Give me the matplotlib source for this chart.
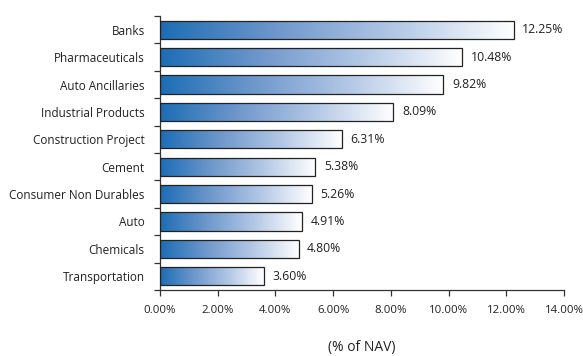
import numpy as np
import matplotlib
matplotlib.use("Agg")
import matplotlib.pyplot as plt
from matplotlib.colors import LinearSegmentedColormap

sectors = ["Banks", "Pharmaceuticals", "Auto Ancillaries", "Industrial Products",
           "Construction Project", "Cement", "Consumer Non Durables", "Auto",
           "Chemicals", "Transportation"]
weights = [12.25, 10.48, 9.82, 8.09, 6.31, 5.38, 5.26, 4.91, 4.80, 3.60]
xticks = [0, 2, 4, 6, 8, 10, 12, 14]

plt.rcParams["font.family"] = ["Open Sans", "DejaVu Sans"]

blues = LinearSegmentedColormap.from_list(
    "nav", ["#1c6db5", "#6f98cc", "#b3c8e6", "#ffffff"])
grad = np.linspace(0, 1, 256).reshape(1, -1)

fig = plt.figure(figsize=(5.83, 3.56), dpi=100)
ax = fig.add_axes([160 / 583, 1 - 290 / 356, (564 - 160) / 583, (290 - 16) / 356])

n = len(sectors)
ypos = np.arange(n)[::-1]
h = 0.66
bars = ax.barh(ypos, weights, height=h, facecolor="none",
               edgecolor="#222222", linewidth=0.9, zorder=3)
for b, v, y in zip(bars, weights, ypos):
    # horizontal blue-to-white fill, clipped to each bar
    im = ax.imshow(grad, cmap=blues, aspect="auto",
                   extent=[0, v, y - h / 2, y + h / 2], zorder=2)
    im.set_clip_path(b)
    ax.text(v + 0.3, y, f"{v:.2f}%", va="center", ha="left",
            fontsize=8.8, color="#222222")

ax.set_xlim(0, 14)
ax.set_ylim(-0.5, n - 0.5)
ax.set_xticks(xticks)
ax.set_xticklabels([f"{t:.2f}%" for t in xticks], fontsize=8.2, color="#222222")
ax.set_yticks(ypos)
ax.set_yticklabels(sectors, fontsize=8.5, color="#222222")
ax.set_yticks(np.arange(-0.5, n, 1), minor=True)
ax.tick_params(axis="y", which="major", length=0, pad=11)
ax.tick_params(axis="y", which="minor", length=4, width=0.9, color="#333333")
ax.tick_params(axis="x", length=4, width=0.9, color="#333333", pad=7)

for s in ["top", "right"]:
    ax.spines[s].set_visible(False)
for s in ["left", "bottom"]:
    ax.spines[s].set_color("#333333")
    ax.spines[s].set_linewidth(0.9)

ax.set_xlabel("(% of NAV)", fontsize=10, color="#222222", labelpad=17)

fig.savefig("out.png", dpi=100)
